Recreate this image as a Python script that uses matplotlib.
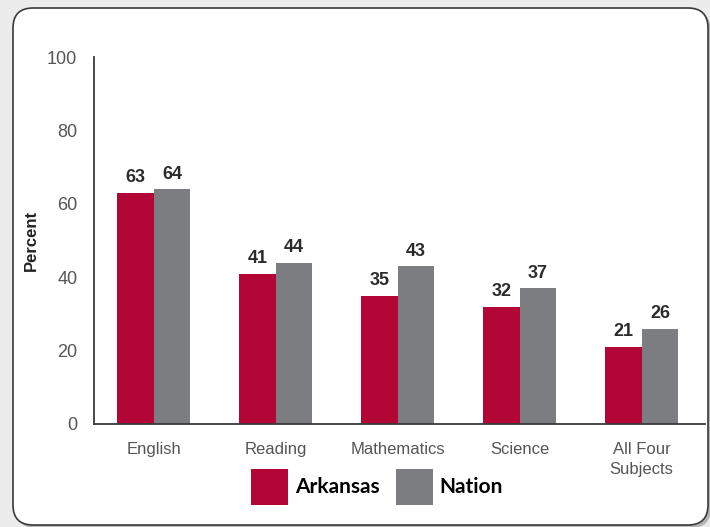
import matplotlib.pyplot as plt
import numpy as np
from matplotlib.patches import FancyBboxPatch

# данные
categories = ['English', 'Reading', 'Mathematics', 'Science', 'All Four\nSubjects']
arkansas = [63, 41, 35, 32, 21]
nation = [64, 44, 43, 37, 26]
yticks = [0, 20, 40, 60, 80, 100]

red = '#B10636'
gray = '#7C7D80'

fig = plt.figure(figsize=(7.1, 5.27), dpi=100, facecolor='#ececec')

# рамка с тенью
shadow = FancyBboxPatch((0.16, -0.01), 6.95, 5.17, boxstyle='round,pad=0,rounding_size=0.2',
                        transform=fig.dpi_scale_trans, facecolor='#b5b5b5', edgecolor='none', zorder=0)
frame = FancyBboxPatch((0.13, 0.02), 6.95, 5.17, boxstyle='round,pad=0,rounding_size=0.2',
                       transform=fig.dpi_scale_trans, facecolor='white', edgecolor='#3a3a3a',
                       linewidth=1.2, zorder=0.5)
fig.patches.extend([shadow, frame])

ax = fig.add_axes([94 / 710, 1 - 424 / 527, (705 - 94) / 710, (424 - 57) / 527])
ax.set_facecolor('none')
ax.set_zorder(2)

x = np.arange(len(categories))
w = 0.3
b1 = ax.bar(x - w / 2, arkansas, w, color=red, label='Arkansas')
b2 = ax.bar(x + w / 2, nation, w, color=gray, label='Nation')

for bars, vals in ((b1, arkansas), (b2, nation)):
    for rect, v in zip(bars, vals):
        ax.text(rect.get_x() + rect.get_width() / 2, v + 1.8, str(v), ha='center', va='bottom',
                fontsize=13, fontweight='bold', color='#2b2b2b', family='Liberation Sans')

ax.set_xlim(-0.49, 4.52)
ax.set_ylim(0, 100)
ax.set_yticks(yticks)
ax.set_xticks(x)
ax.set_xticklabels(categories, family='Liberation Sans', fontsize=12, color='#555555',
                   linespacing=1.45)
ax.set_yticklabels([str(t) for t in yticks], family='Liberation Sans', fontsize=13, color='#555555')
ax.tick_params(axis='both', length=0)
ax.tick_params(axis='x', pad=13)
ax.tick_params(axis='y', pad=12)
for s in ('top', 'right'):
    ax.spines[s].set_visible(False)
for s in ('left', 'bottom'):
    ax.spines[s].set_color('#3a3a3a')
    ax.spines[s].set_linewidth(1.3)

fig.text(31 / 710, 1 - 240 / 527, 'Percent', rotation=90, ha='center', va='center',
         fontsize=12, fontweight='bold', color='#222222', family='Liberation Sans', zorder=3)

leg = fig.legend(handles=[b1, b2], labels=['Arkansas', 'Nation'], loc='center',
                 bbox_to_anchor=(377 / 710, 1 - 487 / 527), ncol=2, frameon=False,
                 handlelength=1.8, handleheight=2.25, handletextpad=0.3, columnspacing=0.8,
                 prop={'family': 'Lato', 'weight': 'bold', 'size': 15})
leg.set_zorder(3)

fig.savefig('out.png', dpi=100, facecolor=fig.get_facecolor())
